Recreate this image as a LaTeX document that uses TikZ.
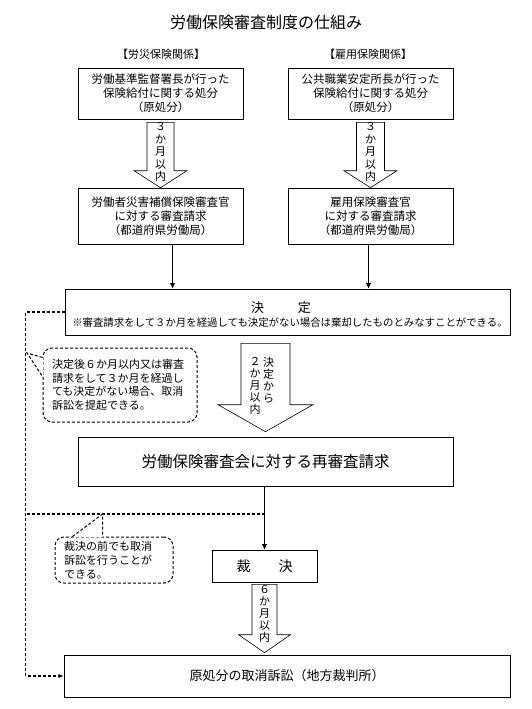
\documentclass[tikz,border=0pt]{standalone}
\usepackage{fontspec}
\setmainfont{Noto Sans CJK JP}
\usetikzlibrary{positioning, calc, arrows.meta}
\tikzset{
	box/.style={draw, line width=0.6pt, align=center, inner sep=2pt, font=\fontsize{11.5}{14}\selectfont},
	dbox/.style={box, append after command={
		[draw, line width=0.6pt] ([shift={(2.2pt,-2.2pt)}]\tikzlastnode.north west) rectangle ([shift={(-2.2pt,2.2pt)}]\tikzlastnode.south east)}},
	heading/.style={font=\fontsize{11}{13}\selectfont},
	vtext/.style={align=center, inner sep=0pt, font=\fontsize{11}{12.5}\selectfont},
	hollow/.style={draw, line width=0.6pt, fill=white},
	flow/.style={line width=1.4pt, -{Latex[length=5.5pt,width=5.5pt]}},
	dashline/.style={dash pattern=on 3pt off 2pt, line width=1.1pt},
	remark/.style={draw, dash pattern=on 3pt off 2pt, line width=1pt, rounded corners=9pt, align=left, inner sep=0pt, font=\fontsize{11}{13.7}\selectfont},
}
% hollow block arrow: top point, tip point, axis node, half shaft, half head, head length
\newcommand{\hollowarrow}[6]{%
	\draw[hollow] let \p1=(#1), \p2=(#2), \p3=(#3) in
	(\x3-#4,\y1) -- (\x3-#4,\y2+#6) -- (\x3-#5,\y2+#6) -- (\x3,\y2)
	-- (\x3+#5,\y2+#6) -- (\x3+#4,\y2+#6) -- (\x3+#4,\y1) -- cycle;
}

\begin{document}
\begin{tikzpicture}[x=1pt, y=-1pt]
	\useasboundingbox (0,0) rectangle (532,709);

	% title and headings
	\node[font=\fontsize{16}{16}\selectfont] (title) at (266,22) {労働保険審査制度の仕組み};
	\node[heading] (headL) at (161,54) {【労災保険関係】};
	\node[heading] (headR) at (368,54) {【雇用保険関係】};

	% original decisions
	\node[box, minimum width=165pt, minimum height=51pt] (origL) at (160.5,93.5) {労働基準監督署長が行った\\保険給付に関する処分\\（原処分）};
	\node[box, minimum width=165pt, minimum height=51pt] (origR) at (370.5,93.5) {公共職業安定所長が行った\\保険給付に関する処分\\（原処分）};

	% requests for examination
	\node[dbox, minimum width=165pt, minimum height=56pt] (reqL) at (160.5,216) {労働者災害補償保険審査官\\に対する審査請求\\（都道府県労働局）};
	\node[dbox, minimum width=165pt, minimum height=56pt] (reqR) at (370.5,216) {雇用保険審査官\\に対する審査請求\\（都道府県労働局）};

	\hollowarrow{[yshift=-3pt]origL.south}{reqL.north}{origL}{13.5pt}{26.5pt}{17pt}
	\hollowarrow{[yshift=-3pt]origR.south}{reqR.north}{origR}{14pt}{26.5pt}{17pt}
	\node[vtext, anchor=north] (monthsL) at ([yshift=-3pt]origL.south) {３\\か\\月\\以\\内};
	\node[vtext, anchor=north] (monthsR) at ([yshift=-3pt]origR.south) {３\\か\\月\\以\\内};

	% decision
	\node[box, minimum width=445pt, minimum height=46pt] (kettei) at (287.5,312) {};
	\node[font=\fontsize{13}{14}\selectfont] (ketteiTitle) at (281,308) {決\hspace{2.6em}定};
	\node[font=\fontsize{10.4}{12}\selectfont] (ketteiNote) at (290,322.5) {※審査請求をして３か月を経過しても決定がない場合は棄却したものとみなすことができる。};
	\coordinate (outL) at ([xshift=12pt]reqL.south);
	\coordinate (outR) at ([xshift=-2pt]reqR.south);
	\draw[flow] (outL) -- (outL |- kettei.north);
	\draw[flow] (outR) -- (outR |- kettei.north);

	% re-examination
	\node[dbox, minimum width=375pt, minimum height=49pt, font=\fontsize{15.5}{16}\selectfont] (recheck) at (265.5,461.5) {労働保険審査会に対する再審査請求};
	\hollowarrow{[yshift=-8pt]kettei.south}{[yshift=5pt]recheck.north}{recheck}{24.5pt}{47.5pt}{27pt}
	\node[vtext, anchor=north, font=\fontsize{11}{12}\selectfont] (fromK) at (268.5,357) {決\\定\\か\\ら};
	\node[vtext, anchor=north east, font=\fontsize{11}{12}\selectfont] (twoM) at ([xshift=-2pt]fromK.north west) {２\\か\\月\\以\\内};

	% verdict
	\node[box, minimum width=105pt, minimum height=32pt, font=\fontsize{14}{14}\selectfont] (verdict) at (264.5,566) {裁\hspace{2em}決};
	\draw[flow] (verdict.north |- recheck.south) -- (verdict.north);

	% lawsuit
	\node[box, minimum width=446pt, minimum height=42pt, font=\fontsize{13}{14}\selectfont] (court) at (287,676) {原処分の取消訴訟（地方裁判所）};
	\hollowarrow{[yshift=-2pt]verdict.south}{[yshift=2pt]court.north}{verdict}{12.5pt}{26pt}{18pt}
	\node[vtext, anchor=north, font=\fontsize{11}{12}\selectfont] (monthsV) at ([yshift=-2.5pt]verdict.south) {６\\か\\月\\以\\内};

	% dashed route to the court
	\draw[dashline, -{Latex[length=5pt,width=4pt]}] (kettei.west) -- ++(-39,0) |- (court.west);
	\coordinate (fork) at (264.5,514);
	\coordinate (railjoin) at (26,514);
	\draw[dashline] (fork) -- (railjoin);

	% remarks
	\node[remark, minimum width=154pt, minimum height=74pt, text width=136pt] (rem1) at (120,385)
		{決定後６か月以内又は審査\\請求をして３か月を経過し\\ても決定がない場合、取消\\訴訟を提起できる。};
	\coordinate (tip1) at (27,353);
	\fill[white] ([yshift=-10pt, xshift=0.9pt]rem1.north west) -- (tip1) -- ([yshift=-29pt, xshift=0.9pt]rem1.north west) -- cycle;
	\draw[dashline, line width=1pt] ([yshift=-10pt]rem1.north west) -- (tip1) -- ([yshift=-29pt]rem1.north west);

	\node[remark, minimum width=118pt, minimum height=46pt, text width=100pt] (rem2) at (114,560)
		{裁決の前でも取消\\訴訟を行うことが\\できる。};
	\coordinate (base2a) at ([xshift=18pt]rem2.north west);
	\coordinate (base2b) at ([xshift=48pt]rem2.north west);
	\coordinate (tip2) at (base2b |- fork);
	\fill[white] ([yshift=-0.9pt]base2a) -- (tip2) -- ([yshift=-0.9pt]base2b) -- cycle;
	\draw[dashline, line width=1pt] (base2a) -- (tip2) -- (base2b);
\end{tikzpicture}
\end{document}
